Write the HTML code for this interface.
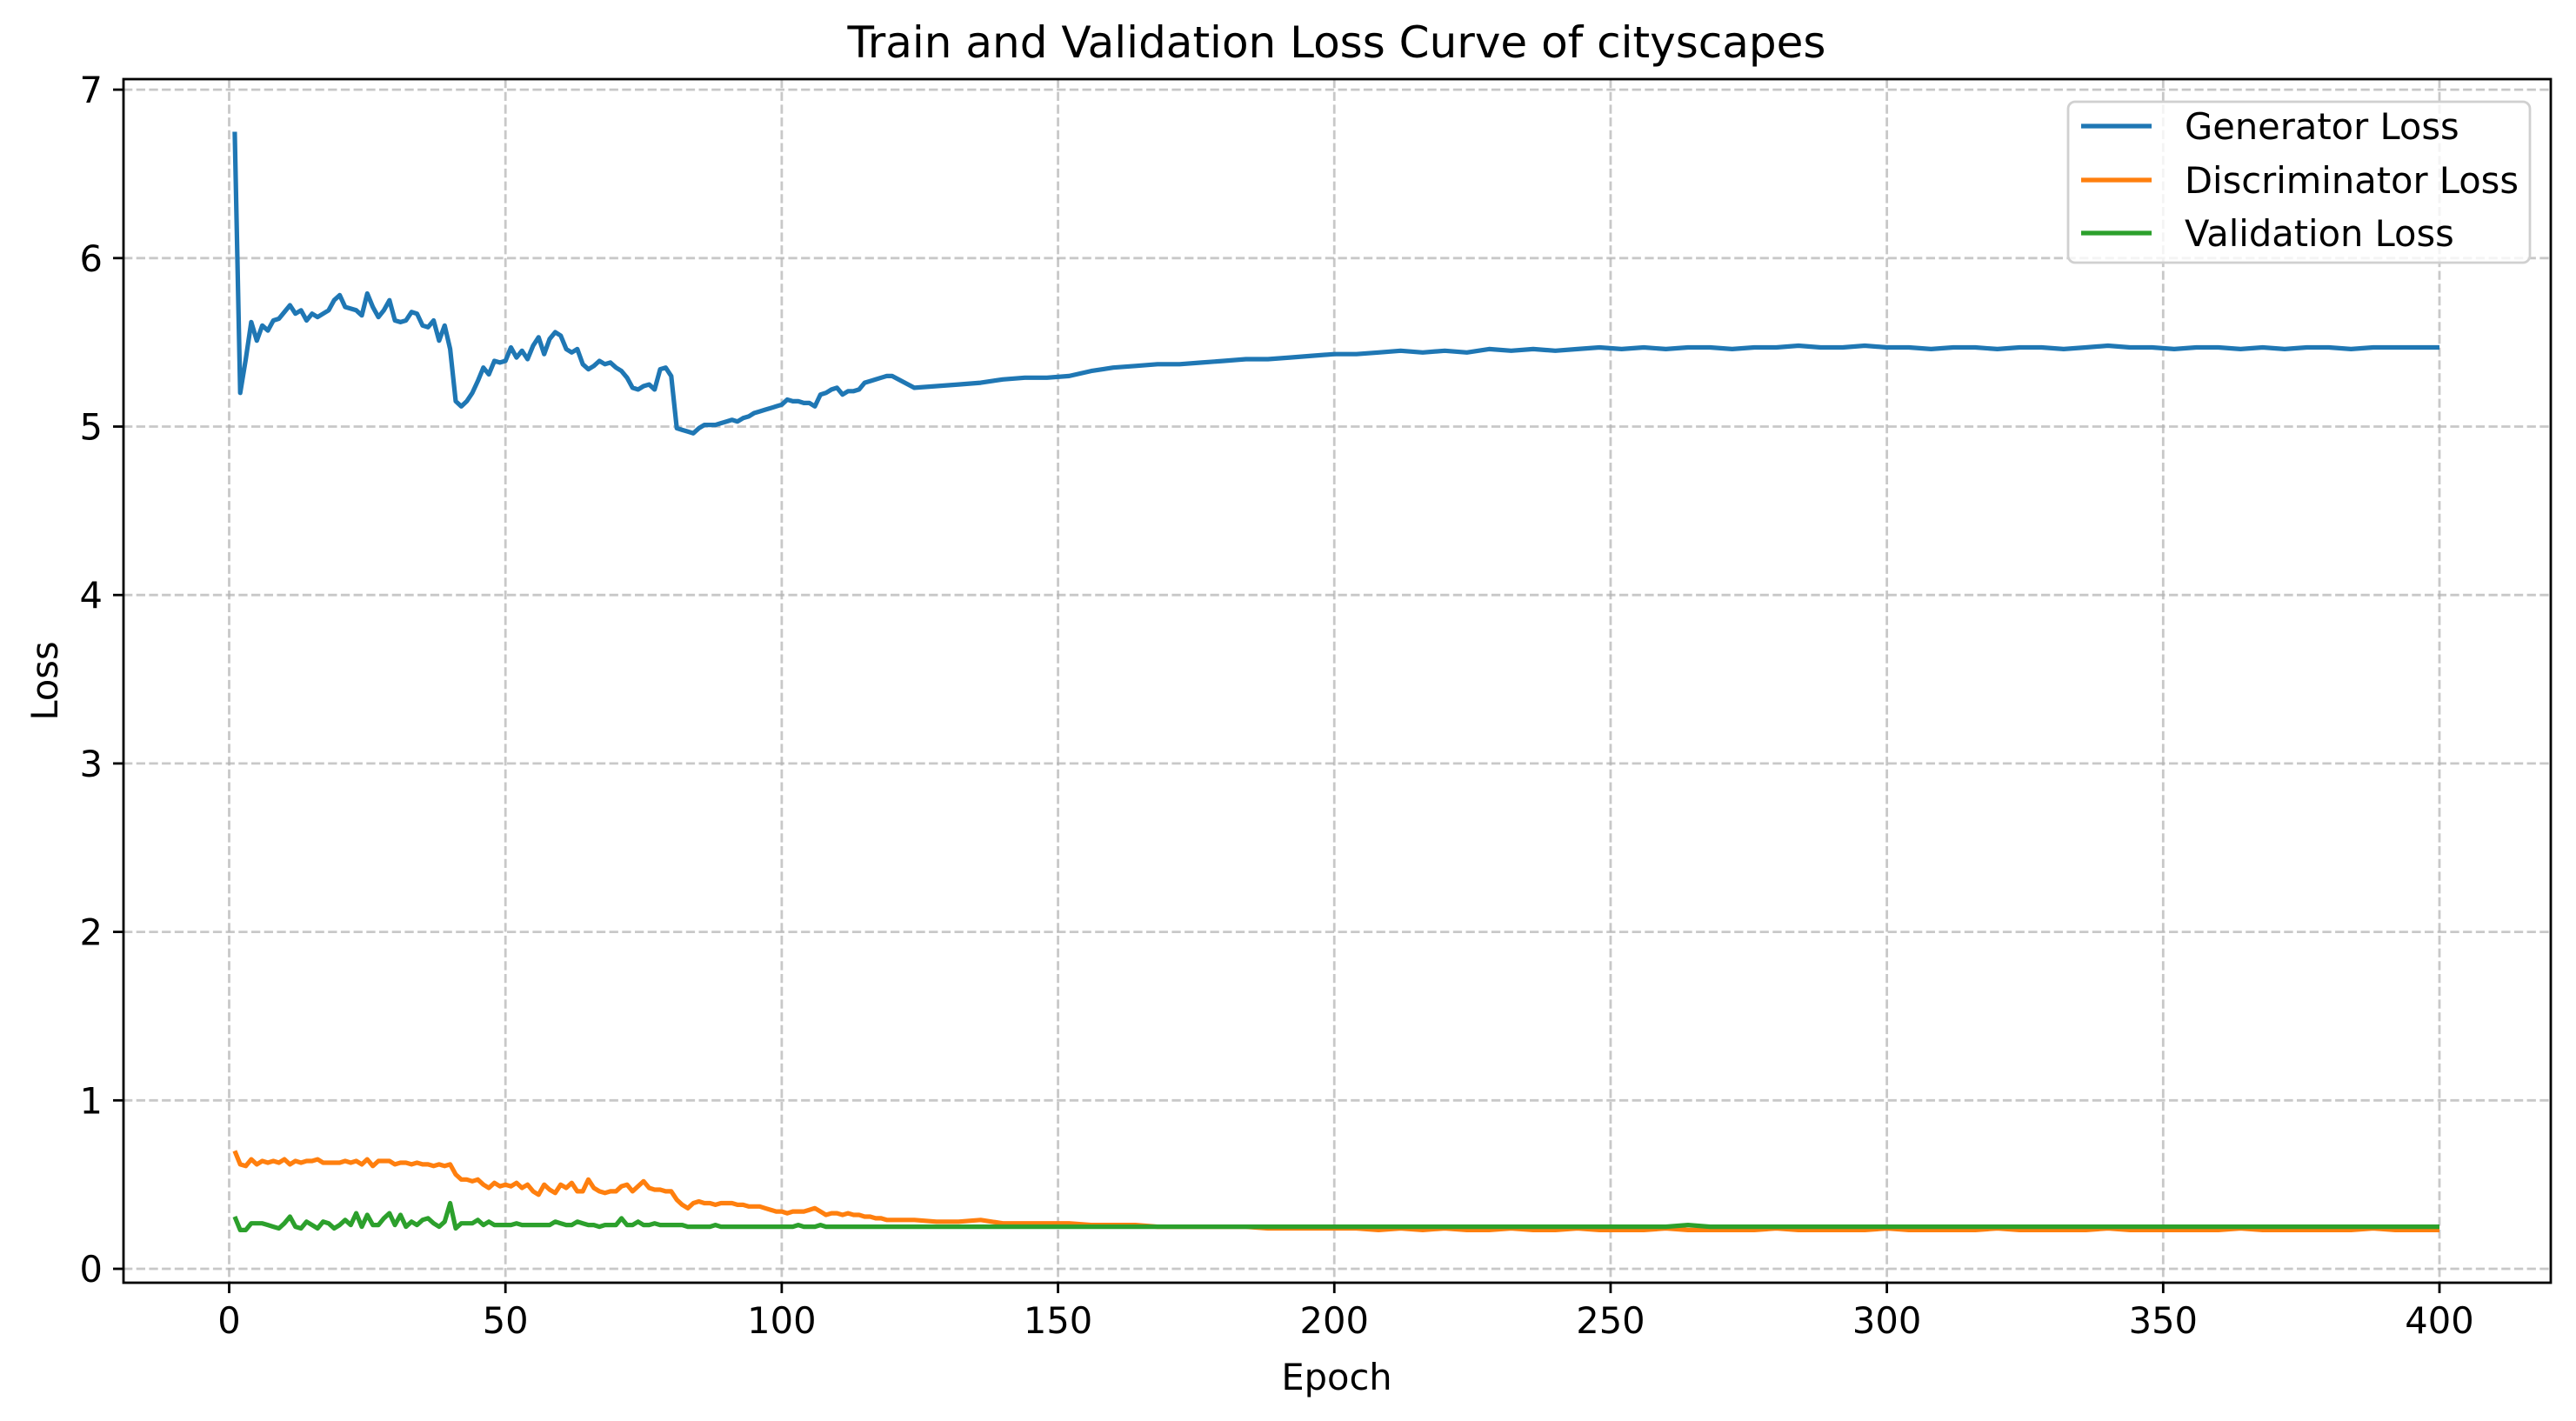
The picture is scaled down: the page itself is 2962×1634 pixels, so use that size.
<!DOCTYPE html>
<html><head><meta charset="utf-8"><style>
html,body{margin:0;padding:0;background:#fff;}
svg{display:block;font-family:"DejaVu Sans","Liberation Sans",sans-serif;}
</style></head><body>
<svg id="chart" width="2962" height="1634" viewBox="0 0 2962 1634" xmlns="http://www.w3.org/2000/svg">
<rect x="0" y="0" width="2962" height="1634" fill="#fff"/>
<g id="grid"></g>
<g id="series"></g>
<rect x="142" y="91" width="2791" height="1384" fill="none" stroke="#000" stroke-width="2.8"/>
<g id="ticks"></g>
<text x="1537" y="66" font-size="50" text-anchor="middle">Train and Validation Loss Curve of cityscapes</text>
<text x="1537" y="1598" font-size="41.6" text-anchor="middle">Epoch</text>
<text x="0" y="0" font-size="41.6" text-anchor="middle" transform="translate(66,783) rotate(-90)">Loss</text>
<g>
<rect x="2378" y="117" width="531" height="185" rx="8" fill="#fff" fill-opacity="0.8" stroke="#d0d0d0" stroke-width="2.8"/>
<g>
<line x1="2393" y1="145" x2="2474" y2="145" stroke="#1f77b4" stroke-width="5.2"/>
<text x="2512" y="160" font-size="41.6">Generator Loss</text></g>
<g>
<line x1="2393" y1="207" x2="2474" y2="207" stroke="#ff7f0e" stroke-width="5.2"/>
<text x="2512" y="222" font-size="41.6">Discriminator Loss</text></g>
<g>
<line x1="2393" y1="268" x2="2474" y2="268" stroke="#2ca02c" stroke-width="5.2"/>
<text x="2512" y="283" font-size="41.6">Validation Loss</text></g>
</g>
</svg>
<script>
const epochs = [1,2,3,4,5,6,7,8,9,10,11,12,13,14,15,16,17,18,19,20,21,22,23,24,25,26,27,28,29,30,31,32,33,34,35,36,37,38,39,40,41,42,43,44,45,46,47,48,49,50,51,52,53,54,55,56,57,58,59,60,61,62,63,64,65,66,67,68,69,70,71,72,73,74,75,76,77,78,79,80,81,82,83,84,85,86,87,88,89,90,91,92,93,94,95,96,97,98,99,100,101,102,103,104,105,106,107,108,109,110,111,112,113,114,115,116,117,118,119,120,124,128,132,136,140,144,148,152,156,160,164,168,172,176,180,184,188,192,196,200,204,208,212,216,220,224,228,232,236,240,244,248,252,256,260,264,268,272,276,280,284,288,292,296,300,304,308,312,316,320,324,328,332,336,340,344,348,352,356,360,364,368,372,376,380,384,388,392,396,400];
const genLoss = [6.75,5.20,5.40,5.62,5.51,5.60,5.57,5.63,5.64,5.68,5.72,5.67,5.69,5.63,5.67,5.65,5.67,5.69,5.75,5.78,5.71,5.70,5.69,5.66,5.79,5.71,5.65,5.69,5.75,5.63,5.62,5.63,5.68,5.67,5.60,5.59,5.63,5.51,5.60,5.46,5.15,5.12,5.15,5.20,5.27,5.35,5.31,5.39,5.38,5.39,5.47,5.41,5.45,5.40,5.48,5.53,5.43,5.52,5.56,5.54,5.46,5.44,5.46,5.37,5.34,5.36,5.39,5.37,5.38,5.35,5.33,5.29,5.23,5.22,5.24,5.25,5.22,5.34,5.35,5.30,4.99,4.98,4.97,4.96,4.99,5.01,5.01,5.01,5.02,5.03,5.04,5.03,5.05,5.06,5.08,5.09,5.10,5.11,5.12,5.13,5.16,5.15,5.15,5.14,5.14,5.12,5.19,5.20,5.22,5.23,5.19,5.21,5.21,5.22,5.26,5.27,5.28,5.29,5.30,5.30,5.23,5.24,5.25,5.26,5.28,5.29,5.29,5.30,5.33,5.35,5.36,5.37,5.37,5.38,5.39,5.40,5.40,5.41,5.42,5.43,5.43,5.44,5.45,5.44,5.45,5.44,5.46,5.45,5.46,5.45,5.46,5.47,5.46,5.47,5.46,5.47,5.47,5.46,5.47,5.47,5.48,5.47,5.47,5.48,5.47,5.47,5.46,5.47,5.47,5.46,5.47,5.47,5.46,5.47,5.48,5.47,5.47,5.46,5.47,5.47,5.46,5.47,5.46,5.47,5.47,5.46,5.47,5.47,5.47,5.47];
const discLoss = [0.70,0.62,0.61,0.65,0.62,0.64,0.63,0.64,0.63,0.65,
0.62,0.64,0.63,0.64,0.64,0.65,0.63,0.63,0.63,0.63,
0.64,0.63,0.64,0.62,0.65,0.61,0.64,0.64,0.64,0.62,
0.63,0.63,0.62,0.63,0.62,0.62,0.61,0.62,0.61,0.62,
0.56,0.53,0.53,0.52,0.53,0.50,0.48,0.51,0.49,0.50,
0.49,0.51,0.48,0.50,0.46,0.44,0.50,0.47,0.45,0.50,
0.48,0.51,0.46,0.46,0.53,0.48,0.46,0.45,0.46,0.46,
0.49,0.50,0.46,0.49,0.52,0.48,0.47,0.47,0.46,0.46,
0.41,0.38,0.36,0.39,0.40,0.39,0.39,0.38,0.39,0.39,
0.39,0.38,0.38,0.37,0.37,0.37,0.36,0.35,0.34,0.34,
0.33,0.34,0.34,0.34,0.35,0.36,0.34,0.32,0.33,0.33,
0.32,0.33,0.32,0.32,0.31,0.31,0.30,0.30,0.29,0.29,
0.29,0.28,0.28,0.29,0.27,0.27,0.27,0.27,0.26,0.26,
0.26,0.25,0.25,0.25,0.25,0.25,0.24,0.24,0.24,0.24,
0.24,0.23,0.24,0.23,0.24,0.23,0.23,0.24,0.23,0.23,
0.24,0.23,0.23,0.23,0.24,0.23,0.23,0.23,0.23,0.24,
0.23,0.23,0.23,0.23,0.24,0.23,0.23,0.23,0.23,0.24,
0.23,0.23,0.23,0.23,0.24,0.23,0.23,0.23,0.23,0.23,
0.24,0.23,0.23,0.23,0.23,0.23,0.24,0.23,0.23,0.23];
const valLoss = [0.31,0.23,0.23,0.27,0.27,0.27,0.26,0.25,0.24,0.27,
0.31,0.25,0.24,0.28,0.26,0.24,0.28,0.27,0.24,0.26,
0.29,0.26,0.33,0.25,0.32,0.26,0.26,0.30,0.33,0.26,
0.32,0.25,0.28,0.26,0.29,0.30,0.27,0.25,0.28,0.39,
0.24,0.27,0.27,0.27,0.29,0.26,0.28,0.26,0.26,0.26,
0.26,0.27,0.26,0.26,0.26,0.26,0.26,0.26,0.28,0.27,
0.26,0.26,0.28,0.27,0.26,0.26,0.25,0.26,0.26,0.26,
0.30,0.26,0.26,0.28,0.26,0.26,0.27,0.26,0.26,0.26,
0.26,0.26,0.25,0.25,0.25,0.25,0.25,0.26,0.25,0.25,
0.25,0.25,0.25,0.25,0.25,0.25,0.25,0.25,0.25,0.25,
0.25,0.25,0.26,0.25,0.25,0.25,0.26,0.25,0.25,0.25,
0.25,0.25,0.25,0.25,0.25,0.25,0.25,0.25,0.25,0.25,
0.25,0.25,0.25,0.25,0.25,0.25,0.25,0.25,0.25,0.25,
0.25,0.25,0.25,0.25,0.25,0.25,0.25,0.25,0.25,0.25,
0.25,0.25,0.25,0.25,0.25,0.25,0.25,0.25,0.25,0.25,
0.25,0.25,0.25,0.25,0.25,0.26,0.25,0.25,0.25,0.25,
0.25,0.25,0.25,0.25,0.25,0.25,0.25,0.25,0.25,0.25,
0.25,0.25,0.25,0.25,0.25,0.25,0.25,0.25,0.25,0.25,
0.25,0.25,0.25,0.25,0.25,0.25,0.25,0.25,0.25,0.25];
const xTicks = [0,50,100,150,200,250,300,350,400];
const xTickLabels = ["0","50","100","150","200","250","300","350","400"];
const yTicks = [0,1,2,3,4,5,6,7];
const yTickLabels = ["0","1","2","3","4","5","6","7"];

const NS = "http://www.w3.org/2000/svg";
const X0 = 263.5, XS = (2805 - 263.5) / 400;
const Y0 = 1459, YS = 193.7;
function xScale(e){ return X0 + e * XS; }
function yScale(v){ return Y0 - v * YS; }
function mk(tag, attrs, parent){
  const el = document.createElementNS(NS, tag);
  for (const k in attrs) el.setAttribute(k, attrs[k]);
  parent.appendChild(el); return el;
}
const grid = document.getElementById('grid');
const ticks = document.getElementById('ticks');
xTicks.forEach((t, i) => {
  const x = xScale(t);
  const g = mk('line', {x1:x, y1:91, x2:x, y2:1475, stroke:'#b0b0b0', 'stroke-opacity':0.7, 'stroke-width':2.8, 'stroke-dasharray':'10.3,4.4'}, grid);
  
  
  const tk = mk('line', {x1:x, y1:1475, x2:x, y2:1487, stroke:'#000', 'stroke-width':2.8}, ticks);
  
  
  const tl = mk('text', {x:x, y:1533, 'font-size':41.6, 'text-anchor':'middle'}, ticks);
  tl.textContent = xTickLabels[i];
  
  
});
yTicks.forEach((t, i) => {
  const y = yScale(t);
  const g = mk('line', {x1:142, y1:y, x2:2933, y2:y, stroke:'#b0b0b0', 'stroke-opacity':0.7, 'stroke-width':2.8, 'stroke-dasharray':'10.3,4.4'}, grid);
  
  
  const tk = mk('line', {x1:130, y1:y, x2:142, y2:y, stroke:'#000', 'stroke-width':2.8}, ticks);
  
  
  const tl = mk('text', {x:118, y:y + 15, 'font-size':41.6, 'text-anchor':'end'}, ticks);
  tl.textContent = yTickLabels[i];
  
  
});
const seriesLayer = document.getElementById('series');
function drawLine(vals, color, name){
  const n = Math.min(vals.length, epochs.length);
  let d = '';
  for (let i = 0; i < n; i++) d += (i ? 'L' : 'M') + xScale(epochs[i]).toFixed(1) + ',' + yScale(vals[i]).toFixed(1);
  const p = mk('path', {d:d, fill:'none', stroke:color, 'stroke-width':5.2, 'stroke-linejoin':'round', 'stroke-linecap':'butt'}, seriesLayer);
  
  
}
drawLine(genLoss, '#1f77b4', 'generator-loss-line');
drawLine(discLoss, '#ff7f0e', 'discriminator-loss-line');
drawLine(valLoss, '#2ca02c', 'validation-loss-line');
</script>
</body></html>
